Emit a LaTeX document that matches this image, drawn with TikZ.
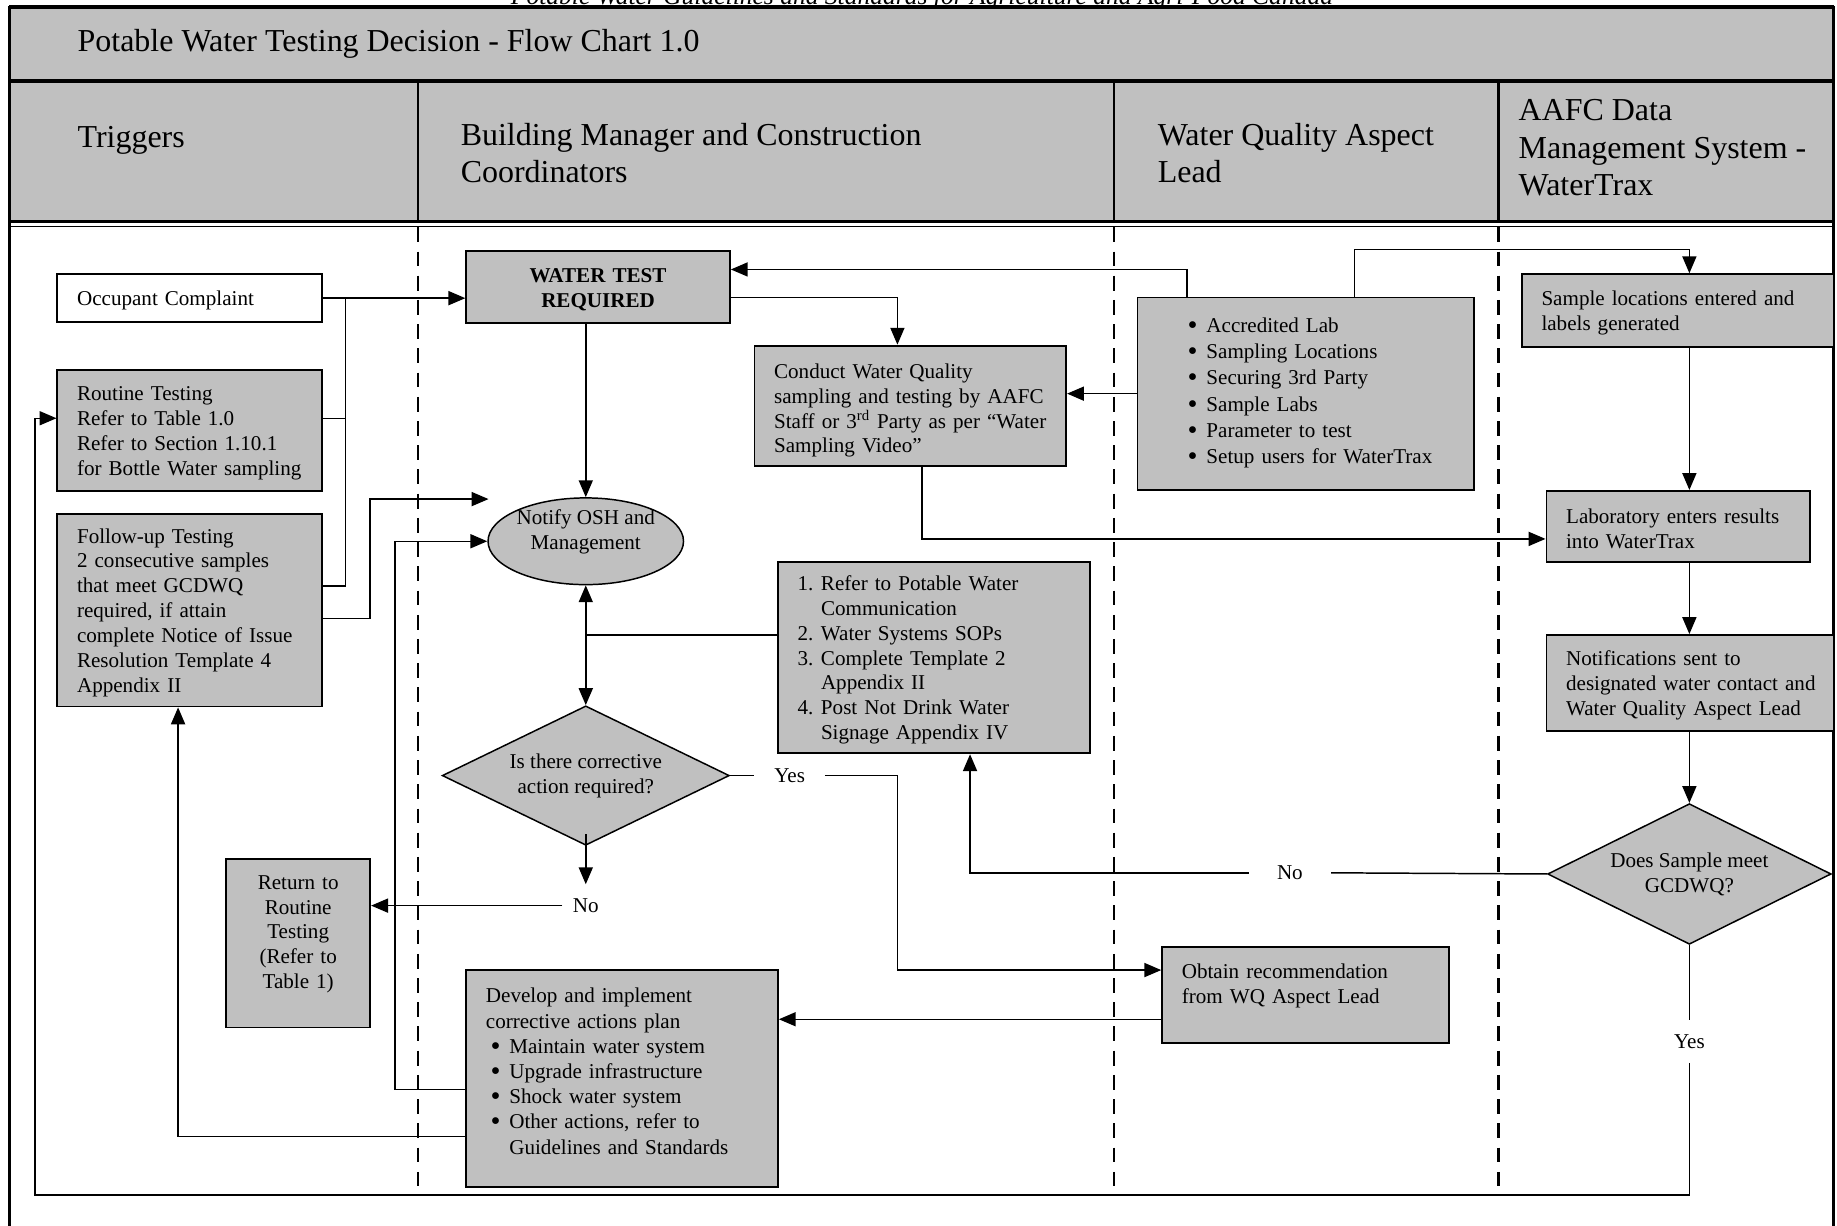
\documentclass[tikz,border=0pt]{standalone}
\usepackage{fontspec}
\setmainfont{Liberation Serif}
\usetikzlibrary{shapes.geometric, arrows.meta}

\definecolor{boxgray}{HTML}{C0C0C0}
\newcommand{\bodyfont}{\fontsize{12.8}{15.1}\selectfont}
\newcommand{\hdrfont}{\fontsize{19.4}{22.7}\selectfont}
\newcommand{\bulitem}{\makebox[0.4cm][l]{\raisebox{-1.2pt}{\scalebox{1.35}{\textbullet}}}}
\newcommand{\itemno}[1]{\makebox[0.5cm][l]{#1}}

\begin{document}
\begin{tikzpicture}[x=0.025cm, y=-0.025cm,
    >={Triangle[length=0.36cm, width=0.3cm]},
    box/.style={draw, fill=boxgray, line width=1.1pt, font=\bodyfont, align=left, inner xsep=0.42cm, inner ysep=0pt,
        execute at begin node=\rule{0pt}{11.6pt}},
    lbl/.style={font=\bodyfont, inner xsep=0.42cm, inner ysep=0.3cm},
    conn/.style={line width=0.9pt},
    lane/.style={line width=1.5pt, dash pattern=on 9pt off 5.7pt},
    frame/.style={line width=2.2pt}]
    \useasboundingbox (0,0) rectangle (1568,1046);

    % Page header, cut at the top
    \node[font=\fontsize{15.5}{18}\selectfont\itshape, anchor=base, inner sep=0] (pghead) at (787,3.5) {Potable Water Guidelines and Standards for Agriculture and Agri-Food Canada};

    % Title band and lane headers
    \fill[boxgray] (8,6) rectangle (1565,190);
    \draw[frame] (8,6) -- (1565,6);
    \draw[frame] (8,69) -- (1565,69);
    \draw[frame] (8,189) -- (1565,189);
    \draw[line width=0.8pt] (8,193.5) -- (1565,193.5);
    \foreach \x in {357, 951, 1279} {
        \draw[line width=1.5pt] (\x,69) -- (\x,190);
        \draw[lane] (\x,194) -- (\x,1012);
    }
    \draw[frame] (8,5) -- (8,1060);
    \draw[frame] (1565,5) -- (1565,1060);

    \node[font=\hdrfont, anchor=base west, inner sep=0] (title) at (66,44) {Potable Water Testing Decision - Flow Chart 1.0};
    \node[font=\hdrfont, anchor=base west, inner sep=0] (hd1) at (66,126) {Triggers};
    \node[font=\hdrfont, anchor=base west, inner sep=0, align=left] (hd2) at (393,156) {Building Manager and Construction\\Coordinators};
    \node[font=\hdrfont, anchor=base west, inner sep=0, align=left] (hd3) at (988,156) {Water Quality Aspect\\Lead};
    \node[font=\hdrfont, anchor=base west, inner sep=0, align=left] (hd4) at (1296,167) {AAFC Data\\Management System -\\WaterTrax};

    % Triggers
    \node[box, fill=white, minimum width=5.65cm, minimum height=1.025cm, text width=4.81cm] (occ) at (162,254.5) {Occupant Complaint};
    \node[box, minimum width=5.65cm, minimum height=2.575cm, text width=4.81cm] (routine) at (162,367.5) {Routine Testing\\Refer to Table 1.0\\Refer to Section 1.10.1\\\mbox{for Bottle Water sampling}};
    \node[box, minimum width=5.65cm, minimum height=4.1cm, text width=4.81cm] (follow) at (162,521) {Follow-up Testing\\2 consecutive samples\\that meet GCDWQ\\required, if attain\\complete Notice of Issue\\Resolution Template 4\\Appendix II};
    \node[box, align=center, minimum width=3.075cm, minimum height=3.6cm, text width=2.235cm] (ret) at (254.5,805) {Return to\\Routine\\Testing\\(Refer to\\Table 1)\\[1.6pt]\mbox{}};

    % Building manager lane
    \node[box, align=center, font=\bodyfont\bfseries, minimum width=5.625cm, minimum height=1.55cm, text width=4.785cm] (wtr) at (510.5,245) {WATER TEST\\REQUIRED};
    \node[box, minimum width=6.65cm, minimum height=2.575cm, text width=5.81cm] (cond) at (777,346.5) {\rule{0pt}{14.5pt}Conduct Water Quality\\\mbox{sampling and testing by AAFC}\\\mbox{Staff or 3\textsuperscript{rd} Party as per “Water}\\Sampling Video”};
    \node[ellipse, draw, fill=boxgray, line width=0.9pt, font=\bodyfont, align=center, inner sep=0, text height=20pt, text depth=10pt, minimum width=4.15cm, minimum height=1.85cm] (notify) at (500,462) {Notify OSH and\\Management};
    \node[box, minimum width=6.65cm, minimum height=4.075cm, text width=5.81cm] (lst) at (797,561.5) {\itemno{1.}Refer to Potable Water\\\hspace*{0.5cm}Communication\\\itemno{2.}Water Systems SOPs\\\itemno{3.}Complete Template 2\\\hspace*{0.5cm}Appendix II\\\itemno{4.}Post Not Drink Water\\\hspace*{0.5cm}Signage Appendix IV};
    \node[diamond, draw, fill=boxgray, line width=0.9pt, font=\bodyfont, align=center, inner sep=0, aspect=2, minimum width=6.125cm, minimum height=2.975cm] (corr) at (500,662) {Is there corrective\\action required?};
    \node[box, font=\fontsize{12.8}{15.3}\selectfont, minimum width=6.65cm, minimum height=4.625cm, text width=5.81cm] (dev) at (531,920.5) {Develop and implement\\corrective actions plan\\\hspace*{0.1cm}\bulitem Maintain water system\\\hspace*{0.1cm}\bulitem Upgrade infrastructure\\\hspace*{0.1cm}\bulitem Shock water system\\\hspace*{0.1cm}\bulitem Other actions, refer to\\\hspace*{0.5cm}Guidelines and Standards\\[-3.7pt]\mbox{}};

    % Water quality aspect lead
    \node[box, font=\fontsize{12.8}{15.9}\selectfont, minimum width=7.175cm, minimum height=4.1cm, text width=6.335cm] (lab) at (1114.5,336) {\hspace*{0.65cm}\bulitem Accredited Lab\\\hspace*{0.65cm}\bulitem Sampling Locations\\\hspace*{0.65cm}\bulitem Securing 3rd Party\\\hspace*{0.65cm}\bulitem Sample Labs\\\hspace*{0.65cm}\bulitem Parameter to test\\\hspace*{0.65cm}\bulitem Setup users for WaterTrax\\[-9.5pt]\mbox{}};
    \node[box, minimum width=6.125cm, minimum height=2.05cm, text width=5.285cm] (obt) at (1114.5,849) {Obtain recommendation\\from WQ Aspect Lead\\[1.4pt]\mbox{}};

    % WaterTrax
    \node[box, minimum width=6.65cm, minimum height=1.55cm, text width=5.81cm] (sloc) at (1432,265) {\mbox{Sample locations entered and}\\labels generated};
    \node[box, minimum width=5.625cm, minimum height=1.525cm, text width=4.785cm] (lres) at (1432.5,449.5) {Laboratory enters results\\into WaterTrax};
    \node[box, minimum width=6.125cm, minimum height=2.05cm, text width=5.285cm] (notif) at (1442.5,583) {Notifications sent to\\\mbox{designated water contact and}\\\mbox{Water Quality Aspect Lead}};
    \node[diamond, draw, fill=boxgray, line width=0.9pt, font=\bodyfont, align=center, inner sep=0, aspect=2, minimum width=6.05cm, minimum height=3cm] (meet) at (1442,746) {Does Sample meet\\GCDWQ?};

    % Yes / No labels
    \node[lbl] (yes1) at (674,662) {Yes};
    \node[lbl, inner xsep=0.22cm] (no1) at (500,773) {No};
    \node[lbl, inner xsep=0.6cm] (no2) at (1101,745) {No};
    \node[lbl] (yes2) at (1442,889) {Yes};
    \coordinate (oshin) at (417,426);

    % Triggers into the test
    \draw[conn, ->] (occ.east) -- (occ.east -| wtr.west);
    \draw[conn] (routine.east |- 0,357) -| (295,254);
    \draw[conn] (follow.east |- 0,500) -| (295,357);
    \draw[conn, ->] (follow.east |- 0,528) -| (316,426) -- (oshin);

    % Test flow
    \draw[conn, ->] (wtr.south -| notify.north) -- (notify.north);
    \draw[conn, ->] (wtr.east |- 0,254) -| (cond.north -| 766,0);
    \draw[conn, ->] (lab.north -| 1013,0) |- (wtr.east |- 0,230);
    \draw[conn, ->] (lab.west) -- (lab.west -| cond.east);
    \draw[conn, ->] (lab.north -| 1156,0) |- (1442,213) -- (sloc.north -| meet.north);
    \draw[conn, ->] (cond.south -| 787,0) |- (lres.west |- 0,460);
    \draw[conn, ->] (sloc.south -| meet.north) -- (lres.north -| meet.north);
    \draw[conn, ->] (lres.south -| meet.north) -- (notif.north -| meet.north);
    \draw[conn, ->] (notif.south -| meet.north) -- (meet.north);

    % Decisions
    \draw[conn] (meet.west) -- (no2.east);
    \draw[conn, ->] (no2.west) -| (lst.south -| 828,0);
    \draw[conn, <->] (notify.south) -- (corr.north);
    \draw[conn] (lst.west |- 0,542) -- (notify.south |- 0,542);
    \draw[conn] (corr.east) -- (yes1.west);
    \draw[conn, ->] (yes1.east) -| (766,828) -- (obt.west |- 0,828);
    \draw[conn, ->] ([yshift=0.25cm]corr.south) -- (no1.north);
    \draw[conn, ->] (no1.west) -- (no1.west -| ret.east);
    \draw[conn, ->] (obt.west |- 0,870) -- (dev.east |- 0,870);

    % Corrective actions back to triggers
    \draw[conn, ->] (dev.west |- 0,930) -| (337,462) -- (notify.west);
    \draw[conn, ->] (dev.west |- 0,970) -| (follow.south -| 152,0);
    \draw[conn] (meet.south) -- (yes2.north);
    \draw[conn, ->] (yes2.south) |- (30,1020) |- (routine.west |- 0,357);
\end{tikzpicture}
\end{document}
